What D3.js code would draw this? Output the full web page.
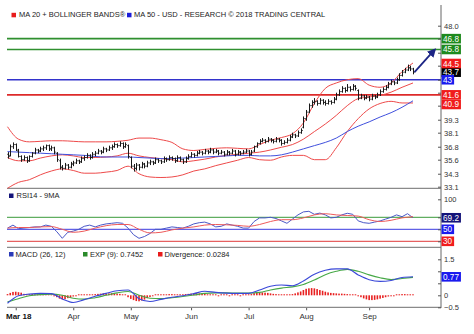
<!DOCTYPE html>
<html><head><meta charset="utf-8">
<script src="https://cdn.jsdelivr.net/npm/d3@7"></script>
<style>
body{margin:0;background:#fff}
svg{display:block;font-family:"Liberation Sans",Arial,sans-serif}
</style>
</head><body><svg id="c" width="474" height="334"></svg>
<script>
// ---------------- DATA ----------------
const startDate = "2018-02-26";
const holidays = ["2018-03-30","2018-05-28","2018-07-04","2018-09-03"];
// daily [open, high, low, close]
const ohlc = [
[36.1,36.3,35.7,35.9],[36.0,37.0,35.9,36.8],[36.8,37.2,36.6,37.0],[37.0,37.1,36.4,36.5],[36.4,36.6,35.8,35.9],
[35.9,36.0,35.4,35.6],[35.6,36.0,35.5,35.8],[35.8,35.9,35.3,35.5],[35.5,36.0,35.4,35.9],[35.9,36.3,35.8,36.2],
[36.2,36.7,36.1,36.5],[36.5,36.6,36.2,36.4],[36.4,36.8,36.3,36.6],[36.6,36.9,36.4,36.7],[36.7,37.0,36.5,36.9],
[36.9,37.0,36.4,36.6],[36.6,36.9,36.4,36.7],[36.7,36.8,36.1,36.3],[36.2,36.3,35.4,35.6],[35.5,35.7,34.7,34.9],
[34.9,35.1,34.6,34.8],[34.8,35.3,34.7,35.1],[35.1,35.2,34.7,34.9],[34.9,35.4,34.8,35.2],[35.2,35.5,35.0,35.3],
[35.3,35.7,35.2,35.5],[35.5,35.6,35.2,35.4],[35.4,35.9,35.3,35.7],[35.7,36.0,35.5,35.8],[35.8,36.2,35.7,36.0],
[36.0,36.1,35.6,35.8],[35.8,36.3,35.7,36.1],[36.1,36.4,35.9,36.2],[36.2,36.6,36.1,36.4],[36.4,36.5,36.1,36.3],
[36.3,36.8,36.2,36.6],[36.6,36.7,36.3,36.5],[36.5,36.9,36.4,36.7],[36.7,37.0,36.5,36.8],[36.8,37.2,36.7,37.0],
[37.0,37.1,36.7,36.9],[36.9,37.3,36.8,37.1],[37.1,37.2,36.6,36.8],[36.8,37.2,36.7,37.0],[36.9,37.0,35.7,35.9],
[35.8,35.9,34.8,35.0],[35.0,35.2,34.5,34.8],[34.8,35.3,34.6,35.1],[35.1,35.2,34.6,34.9],[34.9,35.4,34.8,35.2],
[35.2,35.3,34.8,35.0],[35.0,35.5,34.9,35.3],[35.3,35.6,35.1,35.4],[35.4,35.5,35.1,35.3],[35.3,35.8,35.2,35.6],
[35.6,35.7,35.3,35.5],[35.5,35.6,35.2,35.4],[35.4,35.9,35.3,35.7],[35.7,35.8,35.4,35.6],[35.6,36.0,35.5,35.8],
[35.8,35.9,35.5,35.7],[35.7,35.8,35.3,35.5],[35.5,36.0,35.4,35.8],[35.8,35.9,35.4,35.6],[35.6,35.7,35.2,35.4],
[35.4,35.9,35.3,35.7],[35.7,36.1,35.6,35.9],[35.9,36.3,35.8,36.1],[36.1,36.2,35.8,36.0],[36.0,36.4,35.9,36.2],
[36.2,36.5,36.1,36.3],[36.3,36.4,36.0,36.2],[36.2,36.6,36.1,36.4],[36.4,36.5,36.1,36.3],[36.3,36.7,36.2,36.5],
[36.5,36.6,36.1,36.3],[36.3,36.6,36.2,36.4],[36.4,36.5,36.0,36.2],[36.2,36.5,36.1,36.3],[36.3,36.4,35.9,36.1],
[36.1,36.5,36.0,36.3],[36.3,36.4,36.0,36.2],[36.2,36.6,36.1,36.4],[36.4,36.5,35.9,36.1],[36.1,36.5,36.0,36.3],
[36.3,36.4,36.0,36.2],[36.2,36.5,36.1,36.3],[36.3,36.6,36.2,36.4],[36.4,36.5,35.9,36.1],[36.1,36.5,36.0,36.3],
[36.4,36.9,36.3,36.8],[36.8,37.2,36.7,37.1],[37.1,37.5,37.0,37.3],[37.3,37.6,37.2,37.4],[37.4,37.5,37.1,37.3],
[37.3,37.7,37.2,37.5],[37.5,37.6,37.2,37.4],[37.4,37.5,37.1,37.3],[37.3,37.7,37.2,37.5],[37.5,37.6,37.2,37.4],
[37.4,37.5,36.9,37.1],[37.1,37.4,37.0,37.2],[37.2,37.6,37.1,37.4],[37.4,37.9,37.3,37.7],[37.7,38.1,37.6,37.9],
[37.9,38.0,37.6,37.8],[37.8,38.3,37.7,38.1],[38.1,38.5,38.0,38.3],[38.6,39.6,38.5,39.4],[39.4,40.2,39.2,40.0],
[40.0,40.8,39.9,40.6],[40.6,41.1,40.4,40.9],[40.9,41.3,40.7,41.0],[41.0,41.1,40.6,40.8],[40.8,41.3,40.7,41.1],
[41.1,41.2,40.7,40.9],[40.9,41.1,40.6,40.8],[40.8,41.2,40.7,41.0],[41.0,41.1,40.7,40.9],[40.9,41.4,40.8,41.2],
[41.2,41.8,41.1,41.6],[41.6,42.1,41.5,41.9],[41.9,42.4,41.8,42.2],[42.2,42.3,41.8,42.0],[42.0,42.6,41.9,42.3],
[42.3,42.4,41.9,42.1],[42.1,42.6,42.0,42.4],[42.4,42.5,42.0,42.2],[42.0,42.1,41.1,41.3],[41.3,41.7,41.2,41.5],
[41.5,41.6,41.1,41.3],[41.3,41.6,41.2,41.4],[41.4,41.5,41.0,41.2],[41.2,41.7,41.1,41.5],[41.5,41.6,41.2,41.4],
[41.4,41.8,41.3,41.6],[41.6,42.1,41.5,41.9],[41.9,42.3,41.8,42.1],[42.1,42.5,42.0,42.3],[42.3,42.8,42.2,42.6],
[42.6,43.0,42.5,42.8],[42.8,42.9,42.5,42.7],[42.7,43.2,42.6,43.0],[43.0,43.6,42.9,43.4],[43.4,43.9,43.3,43.7],
[43.7,44.1,43.6,43.9],[43.9,44.4,43.8,44.1],[44.1,44.3,43.8,44.0],[44.0,44.1,43.5,43.7]
];
// indicator series sampled every 4 trading days
const sampleStep = 4;
const bbUpper  = [38.65,37.5,37.25,37.3,37.35,37.35,37.3,37.25,37.25,37.25,37.3,37.4,37.6,37.6,37.45,37.2,36.6,36.45,36.55,36.65,36.7,36.65,36.6,37.0,37.4,37.65,38.0,39.0,40.8,42.2,42.7,43.0,43.1,42.5,42.3,42.7,43.75,44.55];
const bbMiddle = [35.8,35.5,35.5,35.75,35.95,36.05,35.95,35.8,35.8,35.85,35.95,36.2,35.95,35.8,35.7,35.6,35.4,35.5,35.65,35.85,36.0,36.1,36.2,36.3,36.5,36.75,37.0,37.5,38.2,38.9,39.7,40.6,41.25,41.4,41.55,41.85,42.3,42.7];
const bbLower  = [32.95,33.5,33.75,34.2,34.55,34.75,34.6,34.35,34.35,34.45,34.6,35.0,34.3,34.0,33.95,34.0,34.2,34.55,34.75,35.05,35.3,35.55,35.8,35.6,35.55,35.85,36.0,36.0,35.6,35.6,36.7,38.2,39.4,40.3,40.8,41.0,40.85,40.85];
const ma50     = [36.35,36.3,36.25,36.2,36.15,36.1,36.05,36.0,35.9,35.85,35.85,35.85,35.8,35.75,35.7,35.7,35.75,35.8,35.85,35.9,35.95,36.0,36.0,35.95,35.95,36.05,36.3,36.6,36.9,37.2,37.6,38.2,38.7,39.1,39.55,39.95,40.45,41.05];
// RSI14 sampled every 2 trading days, its 9MA every 4
const rsiStep = 2;
const rsi14 = [52,57,51,52,53,54,54,57,55,46,35,45,47,50,55,57,54,57,59,60,61,60,52,41,35,38,43,50,50,52,54,53,52,55,59,61,62,59,54,55,59,57,55,52,52,63,69,69,70,68,64,60,67,74,79,80,75,77,74,69,70,74,76.7,75,64,61,60,62,64,67,70,74,71,76,69.2];
const rsiMA9 = [52,53,53,54,54.5,50,45,47,52,56,58,58,50,44,45,49,52,54,57,58,57.5,56.5,55,58,63,66,66,69,74,76,74,73,72,66,63,65,69,71];
// MACD (26,12) and EXP(9), sampled every 4 trading days
const macdLine = [-0.33,-0.02,0.05,0.08,0.07,-0.15,-0.3,-0.18,-0.04,0.08,0.19,0.22,-0.14,-0.26,-0.17,-0.08,-0.02,0.07,0.17,0.12,0.09,0.08,0.08,0.22,0.38,0.43,0.4,0.6,0.88,1.04,1.1,1.1,0.85,0.65,0.58,0.62,0.74,0.77];
const expLine  = [-0.27,-0.14,-0.02,0.03,0.05,0.0,-0.12,-0.16,-0.1,0.0,0.1,0.16,0.0,-0.12,-0.14,-0.1,-0.05,0.01,0.08,0.1,0.1,0.09,0.09,0.12,0.22,0.3,0.35,0.45,0.64,0.86,1.0,1.08,1.0,0.85,0.73,0.66,0.7,0.745];
// daily divergence
const divergence = [
0.05,0.10,0.14,0.15,0.13,0.11,
0.06,0.05,0.04,0.05,0.04,0.03,0.04,0.03,0.02,0.01,0.00,
-0.03,-0.08,-0.14,-0.17,-0.16,-0.12,-0.09,-0.05,
-0.02,0.0,0.01,0.02,0.03,0.02,
0.03,0.05,0.06,0.07,0.08,0.07,0.08,0.09,0.08,0.07,0.06,0.04,
0.0,-0.08,-0.15,-0.2,-0.24,-0.25,-0.22,-0.18,-0.12,-0.07,
-0.03,0.0,0.02,0.03,0.04,0.04,0.05,0.05,
0.04,0.03,0.03,0.04,0.05,0.06,0.07,0.08,0.09,0.08,0.07,0.06,0.04,0.02,0.01,
0.0,-0.01,0.0,0.01,0.0,-0.01,0.0,0.01,0.0,-0.01,0.0,0.0,0.01,
0.05,0.09,0.12,0.13,0.12,0.11,0.1,0.08,0.06,0.05,0.04,0.02,
0.01,0.02,0.03,0.05,
0.08,0.12,0.16,0.22,0.27,0.29,0.3,0.29,0.26,0.22,0.19,0.15,0.12,
0.1,0.09,0.08,0.07,0.07,0.06,0.05,0.04,0.03,0.01,-0.03,
-0.08,-0.13,-0.17,-0.2,-0.2,-0.19,-0.17,-0.14,-0.11,-0.08,-0.05,-0.03,-0.01,
0.02,0.04,0.05,0.05,0.04,0.03,0.03];
// levels & labels
const resistances = [46.8, 45.8];
const pivot = [43];
const supports = [41.6];
const upperBandLabel = 44.5, lowerBandLabel = 40.9, lastClose = 43.7;
const target = 45.8, targetHorizon = 8; // trading days ahead
const priceTicks = [33.1,34.3,35.6,36.8,38.1,39.3,40.6,41.8,43.0,44.3,45.5,46.8,48.0];
const rsiTicks = [30,50,70,100];
const rsiLevels = [70,50,30];
const macdTicks = [-0.5,0,0.5,1,1.5];
const macdLast = 0.77;
const legendTop = ["MA 20 + BOLLINGER BANDS\u00AE","MA 50 - USD - RESEARCH \u00A9 2018 TRADING CENTRAL"];
const legendMacd = ["MACD (26, 12)","EXP (9): 0.7452","Divergence: 0.0284"];

// ---------------- CHART ----------------
const svg = d3.select("#c");
const FONT = 7.5;
const axisX = 441, left = 7;

// trading dates
const dates = [];
{ let d = new Date(startDate + "T00:00:00");
  const fmt = d3.timeFormat("%Y-%m-%d");
  while (dates.length < ohlc.length) {
    const wd = d.getDay();
    if (wd !== 0 && wd !== 6 && !holidays.includes(fmt(d))) dates.push(new Date(d));
    d.setDate(d.getDate() + 1);
  }
}
const N = ohlc.length;
const x = d3.scaleLinear().domain([0, N - 1]).range([7.5, 413]);
const yP = d3.scaleLinear().domain([33.1, 48.0]).range([186.7, 25.7]);
const yR = d3.scaleLinear().domain([20, 100]).range([247.3, 199.3]);
const yM = d3.scaleLinear().domain([-0.5, 1.85]).range([307.3, 250.9]);

const sampled = (arr, step) => arr.map((v, k) => [k * step, v]);

// separators
[188.3, 247.3].forEach(y => svg.append("line").attr("x1", left).attr("x2", axisX)
  .attr("y1", y).attr("y2", y).attr("stroke", "#8a8a8a").attr("stroke-width", 1.2));

// ---- price panel ----
const hline = (scale, v, color, w) => svg.append("line").attr("x1", left).attr("x2", axisX)
  .attr("y1", scale(v)).attr("y2", scale(v)).attr("stroke", color).attr("stroke-width", w);
resistances.forEach(v => hline(yP, v, "#2f8f2f", 1.6));
pivot.forEach(v => hline(yP, v, "#3333cc", 1.6));
supports.forEach(v => hline(yP, v, "#dd2a2a", 1.6));

const lineS = (scale, step) => d3.line().x(d => x(d[0])).y(d => scale(d[1])).curve(d3.curveMonotoneX);
[bbUpper, bbMiddle, bbLower].forEach(s => svg.append("path")
  .attr("d", lineS(yP, sampleStep)(sampled(s, sampleStep)))
  .attr("fill", "none").attr("stroke", "#ee4a4a").attr("stroke-width", 1));
svg.append("path").attr("d", lineS(yP, sampleStep)(sampled(ma50, sampleStep)))
  .attr("fill", "none").attr("stroke", "#4050dd").attr("stroke-width", 1);

const bars = svg.append("g").attr("stroke", "#1a1a1a").attr("stroke-width", 1);
ohlc.forEach((b, i) => {
  const cx = Math.round(x(i)) + 0.5;
  bars.append("line").attr("x1", cx).attr("x2", cx).attr("y1", yP(b[1])).attr("y2", yP(b[2]));
  bars.append("line").attr("x1", cx - 1.2).attr("x2", cx).attr("y1", yP(b[0])).attr("y2", yP(b[0]));
  bars.append("line").attr("x1", cx).attr("x2", cx + 1.2).attr("y1", yP(b[3])).attr("y2", yP(b[3]));
});

// forecast arrow
svg.append("defs").append("marker").attr("id", "ah").attr("viewBox", "0 0 10 10")
  .attr("refX", 8).attr("refY", 5).attr("markerWidth", 5).attr("markerHeight", 5)
  .attr("orient", "auto").append("path").attr("d", "M0,0L10,5L0,10z").attr("fill", "#1c2585");
svg.append("line").attr("x1", x(N - 1) + 1.5).attr("y1", yP(ohlc[N - 1][3]))
  .attr("x2", x(N - 1 + targetHorizon)).attr("y2", yP(target))
  .attr("stroke", "#1c2585").attr("stroke-width", 1.8).attr("marker-end", "url(#ah)");

// ---- RSI panel ----
svg.append("line").attr("x1", left).attr("x2", axisX).attr("y1", yR(rsiLevels[0])).attr("y2", yR(rsiLevels[0])).attr("stroke", "#3a9a3a").attr("stroke-width", 1);
svg.append("line").attr("x1", left).attr("x2", axisX).attr("y1", yR(rsiLevels[1])).attr("y2", yR(rsiLevels[1])).attr("stroke", "#3a3ae0").attr("stroke-width", 1);
svg.append("line").attr("x1", left).attr("x2", axisX).attr("y1", yR(rsiLevels[2])).attr("y2", yR(rsiLevels[2])).attr("stroke", "#e03a3a").attr("stroke-width", 1);
svg.append("path").attr("d", d3.line().x(d => x(d[0])).y(d => yR(d[1]))(sampled(rsi14, rsiStep)))
  .attr("fill", "none").attr("stroke", "#4a58c8").attr("stroke-width", 1);
svg.append("path").attr("d", lineS(yR, sampleStep)(sampled(rsiMA9, sampleStep)))
  .attr("fill", "none").attr("stroke", "#ee5a5a").attr("stroke-width", 1);

// ---- MACD panel ----
const dg = svg.append("g").attr("fill", "#e82020");
divergence.forEach((v, i) => {
  const y0 = yM(0), y1 = yM(v);
  const h = Math.max(Math.abs(y1 - y0), 1);
  dg.append("rect").attr("x", x(i) - 0.8).attr("width", 1.6)
    .attr("y", v >= 0 ? y0 - h : y0).attr("height", h);
});
svg.append("path").attr("d", lineS(yM, sampleStep)(sampled(expLine, sampleStep)))
  .attr("fill", "none").attr("stroke", "#46a846").attr("stroke-width", 1.1);
svg.append("path").attr("d", lineS(yM, sampleStep)(sampled(macdLine, sampleStep)))
  .attr("fill", "none").attr("stroke", "#3a48d8").attr("stroke-width", 1.1);

// ---- x axis ----
const monthIdx = [];
dates.forEach((d, i) => { if (i > 0 && d.getMonth() !== dates[i - 1].getMonth()) monthIdx.push(i); });
const xAxis = d3.axisBottom(x).tickValues(monthIdx).tickSizeInner(3).tickSizeOuter(0).tickPadding(3)
  .tickFormat(i => dates[i].getMonth() === 2 ? d3.timeFormat("%b %y")(dates[i]) : d3.timeFormat("%b")(dates[i]));
const gx = svg.append("g").attr("transform", "translate(0,307.3)").call(xAxis);
gx.select(".domain").remove();
gx.selectAll(".tick line").attr("stroke", "#555");
gx.selectAll(".tick text").attr("font-size", 8).attr("fill", "#333").attr("font-family", null)
  .each(function(i) { if (dates[i].getMonth() === 2) d3.select(this).attr("font-weight", "bold").attr("fill", "#111"); });
gx.selectAll(".tick text").each(function() {
  const bb = this.getBBox(); const t = d3.select(this.parentNode).attr("transform");
  const tx = +t.match(/translate\(([^,]+)/)[1];
  if (tx + bb.x < 5) d3.select(this).attr("text-anchor", "start").attr("x", 5 - tx + 1);
});
svg.append("line").attr("x1", left).attr("x2", axisX).attr("y1", 307.3).attr("y2", 307.3).attr("stroke", "#8a8a8a").attr("stroke-width", 1.2);

// right axis vertical
svg.append("line").attr("x1", axisX).attr("x2", axisX).attr("y1", 5).attr("y2", 308).attr("stroke", "#666").attr("stroke-width", 1);

// ---- value boxes ----
const BOXH = 9.6;
function boxes(scale, items) {
  // items: {v, color, label, free}
  let last = -Infinity;
  items.forEach(it => {
    let cy = scale(it.v);
    if (!it.free) { if (cy < last + BOXH) cy = last + BOXH; last = cy; }
    it.cy = cy;
  });
  items.forEach(it => {
    const g = svg.append("g");
    const t = g.append("text").attr("x", axisX + 2).attr("y", it.cy + 3).attr("font-size", 8.2)
      .attr("fill", "#fff").text(it.label);
    const w = t.node().getComputedTextLength();
    g.insert("rect", "text").attr("x", axisX + 0.5).attr("y", it.cy - BOXH / 2)
      .attr("width", w + 3.5).attr("height", BOXH).attr("fill", it.color);
  });
  return items;
}
const pb = boxes(yP, [
  {v: lastClose, color: "#000", label: d3.format(".1f")(lastClose), free: true},
  {v: resistances[0], color: "#1e8a1e", label: d3.format(".1f")(resistances[0])},
  {v: resistances[1], color: "#1e8a1e", label: d3.format(".1f")(resistances[1])},
  {v: upperBandLabel, color: "#f01c1c", label: d3.format(".1f")(upperBandLabel)},
  {v: pivot[0], color: "#1a1aee", label: String(pivot[0])},
  {v: supports[0], color: "#f01c1c", label: d3.format(".1f")(supports[0])},
  {v: lowerBandLabel, color: "#f01c1c", label: d3.format(".1f")(lowerBandLabel)}
]);
const rb = boxes(yR, [
  {v: rsi14[rsi14.length - 1], color: "#14147a", label: d3.format(".1f")(rsi14[rsi14.length - 1])},
  {v: 50, color: "#1a1aee", label: "50"},
  {v: 30, color: "#f01c1c", label: "30"}
]);
const mb = boxes(yM, [{v: macdLast, color: "#1a1aee", label: String(macdLast)}]);

// ---- right axes ----
function rightAxis(scale, ticks, fmt, taken) {
  const ax = d3.axisRight(scale).tickValues(ticks).tickSizeInner(-3).tickSizeOuter(0).tickPadding(3).tickFormat(fmt);
  const g = svg.append("g").attr("transform", `translate(${axisX},0)`).call(ax);
  g.select(".domain").remove();
  g.selectAll(".tick line").attr("stroke", "#555");
  g.selectAll(".tick text").attr("font-size", FONT).attr("fill", "#333").attr("font-family", null)
    .each(function(d) {
      const y = scale(d);
      if (taken.some(b => Math.abs(b.cy - y) < 8)) d3.select(this).remove();
    });
}
rightAxis(yP, priceTicks, d3.format(".1f"), pb);
rightAxis(yR, rsiTicks, d3.format("d"), rb);
rightAxis(yM, macdTicks, d => d3.format("")(d), mb);

// ---- legends ----
const leg = (xq, yq, color, text, tx) => {
  svg.append("rect").attr("x", xq).attr("y", yq).attr("width", 4.5).attr("height", 4.5).attr("fill", color);
  svg.append("text").attr("x", tx).attr("y", yq + 4.6).attr("font-size", FONT).attr("fill", "#222").text(text);
};
leg(11.5, 12.8, "#e81c1c", legendTop[0], 19);
leg(127, 12.8, "#1c1cd8", legendTop[1], 134);
leg(9, 193.5, "#14147a", "RSI14 - 9MA", 16.5);
leg(9, 252, "#2a3ab8", legendMacd[0], 15.5);
leg(83, 252, "#2a8a2a", legendMacd[1], 90);
leg(158, 252, "#e81c1c", legendMacd[2], 164.5);
</script>
</body></html>
